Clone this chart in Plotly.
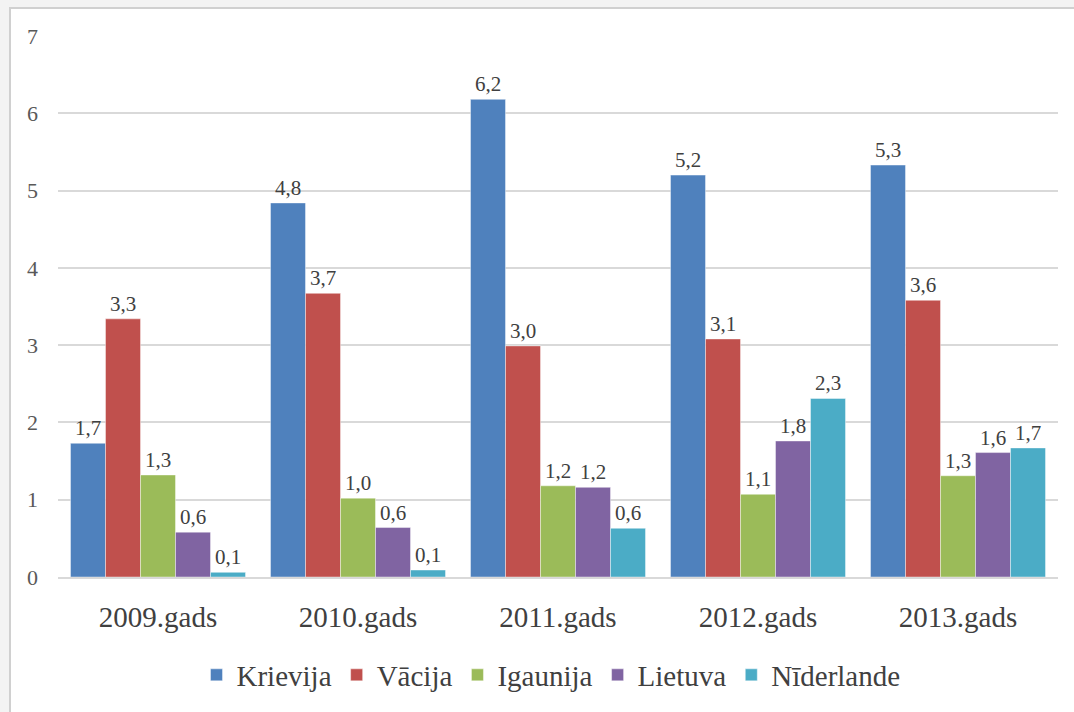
import plotly.graph_objects as go

categories = ["2009.gads", "2010.gads", "2011.gads", "2012.gads", "2013.gads"]
series_names = ["Krievija", "Vācija", "Igaunija", "Lietuva", "Nīderlande"]
krievija = [1.73, 4.84, 6.18, 5.20, 5.33]
vacija = [3.34, 3.67, 2.99, 3.08, 3.58]
igaunija = [1.32, 1.02, 1.18, 1.07, 1.31]
lietuva = [0.58, 0.64, 1.16, 1.76, 1.61]
niderlande = [0.06, 0.09, 0.63, 2.31, 1.67]
colors = ["#4F81BD", "#C0504D", "#9BBB59", "#8064A2", "#4BACC6"]

all_values = [krievija, vacija, igaunija, lietuva, niderlande]

FONT = "'Liberation Serif', 'Times New Roman', serif"

fig = go.Figure()
for name, vals, col in zip(series_names, all_values, colors):
    fig.add_trace(go.Bar(
        name=name, x=categories, y=vals,
        marker=dict(color=col, line=dict(color="rgba(255,255,255,0.6)", width=0.7)),
        texttemplate="%{y:.1f}", textposition="outside",
        textfont=dict(family=FONT, size=21, color="#404040"),
        constraintext="none", cliponaxis=False,
    ))

L, T, PW, PH = 58, 36, 1000, 541

def px_x(p):
    return (p - L) / PW

def px_y(p):
    return (T + PH - p) / PH

fig.add_shape(type="rect", xref="paper", yref="paper",
              x0=px_x(10), x1=px_x(1090), y0=px_y(8), y1=px_y(730),
              fillcolor="white", line=dict(color="#d0d0d0", width=2), layer="below")

fig.update_layout(
    template="none",
    width=1074, height=712,
    margin=dict(l=L, r=1074 - L - PW, t=T, b=712 - T - PH, autoexpand=False),
    paper_bgcolor="#f3f3f3", plot_bgcolor="rgba(0,0,0,0)",
    barmode="group", bargap=0.125, bargroupgap=0,
    separators=", ",
    font=dict(family=FONT, color="#404040"),
    showlegend=True,
    legend=dict(orientation="h", x=0.493, xanchor="center", y=px_y(675), yanchor="middle",
                font=dict(family=FONT, size=29, color="#404040"),
                bgcolor="rgba(0,0,0,0)", itemwidth=30),
    xaxis=dict(tickfont=dict(family=FONT, size=29, color="#404040"),
               showline=True, linecolor="#d9d9d9", linewidth=2, ticks="",
               showgrid=False, automargin=False, ticklabelstandoff=13),
    yaxis=dict(range=[0, 7], dtick=1, tickformat="d",
               tickfont=dict(family=FONT, size=22, color="#595959"),
               showgrid=True, gridcolor="#d9d9d9", gridwidth=2,
               zeroline=False, ticks="", ticklabelstandoff=19, automargin=False),
)

fig.write_html("out.html", post_script="document.body.style.margin='0';",
               config={"displayModeBar": False})
